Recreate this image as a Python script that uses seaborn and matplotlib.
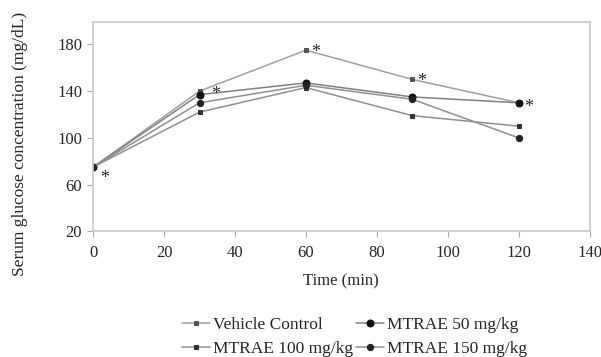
import matplotlib
matplotlib.use("Agg")
import matplotlib.pyplot as plt
import seaborn as sns
import pandas as pd

times = [0, 30, 60, 90, 120]
vehicle = [75, 140, 175, 150, 130]
mtrae50 = [75, 137, 147, 135, 130]
mtrae100 = [75, 122, 143, 119, 110]
mtrae150 = [75, 130, 145, 133, 100]
series_names = ["Vehicle Control", "MTRAE 50 mg/kg", "MTRAE 100 mg/kg", "MTRAE 150 mg/kg"]
star_x = [0, 30, 60, 90, 120]
star_y = [75, 140, 175, 150, 130]
xticks = [0, 20, 40, 60, 80, 100, 120, 140]
yticks = [20, 60, 100, 140, 180]

sns.set_style("white")
plt.rcParams["font.family"] = ["Liberation Serif", "DejaVu Serif"]

rows = []
for name, vals in zip(series_names, [vehicle, mtrae50, mtrae100, mtrae150]):
    for t, v in zip(times, vals):
        rows.append({"Time": t, "Value": v, "Group": name})
df = pd.DataFrame(rows)

fig = plt.figure(figsize=(6.01, 3.57), dpi=100)
ax = fig.add_axes([0.155, 0.352, 0.826, 0.586])

styles = {
    "Vehicle Control": dict(marker="s", ms=3.5, color="#a0a0a0", mfc="#555555", mec="#555555"),
    "MTRAE 50 mg/kg": dict(marker="o", ms=5, color="#808080", mfc="#111111", mec="#111111"),
    "MTRAE 100 mg/kg": dict(marker="s", ms=3, color="#909090", mfc="#333333", mec="#333333"),
    "MTRAE 150 mg/kg": dict(marker="o", ms=4.5, color="#909090", mfc="#222222", mec="#222222"),
}
for name in series_names:
    st = styles[name]
    sub = df[df["Group"] == name]
    sns.lineplot(data=sub, x="Time", y="Value", ax=ax, label=name, color=st["color"],
                 marker=st["marker"], markersize=st["ms"], markerfacecolor=st["mfc"],
                 markeredgecolor=st["mec"], linewidth=1.1, legend=False)

star_offsets = [(7, -16), (12, -8), (5, -7), (5, -7), (5, -9)]
for x, y, (dx, dy) in zip(star_x, star_y, star_offsets):
    ax.annotate("*", (x, y), xytext=(dx, dy), textcoords="offset pixels",
                fontsize=13, ha="left", va="baseline", annotation_clip=False)

ax.set_xlim(0, 140)
ax.set_ylim(20, 199)
ax.set_xticks(xticks)
ax.set_yticks(yticks)
ax.tick_params(axis="both", labelsize=12, length=4, width=0.8, color="#aaaaaa",
               direction="out", bottom=True, left=True)
ax.tick_params(axis="x", pad=6)
ax.tick_params(axis="y", pad=4)
for s in ax.spines.values():
    s.set_color("#c8c8c8")
    s.set_linewidth(1.2)
ax.set_xlabel("Time (min)", fontsize=12, labelpad=9)
ax.set_ylabel("Serum glucose concentration (mg/dL)", fontsize=12.5)
ax.yaxis.set_label_coords(-0.132, 0.42)

handles, labels = ax.get_legend_handles_labels()
order = [0, 2, 1, 3]
fig.legend([handles[i] for i in order], [labels[i] for i in order],
           loc="lower center", bbox_to_anchor=(0.59, -0.045), ncol=2,
           frameon=False, fontsize=12.5, handlelength=1.6, handletextpad=0.15,
           columnspacing=0.2, labelspacing=0.5)

fig.savefig("out.png", dpi=100)
